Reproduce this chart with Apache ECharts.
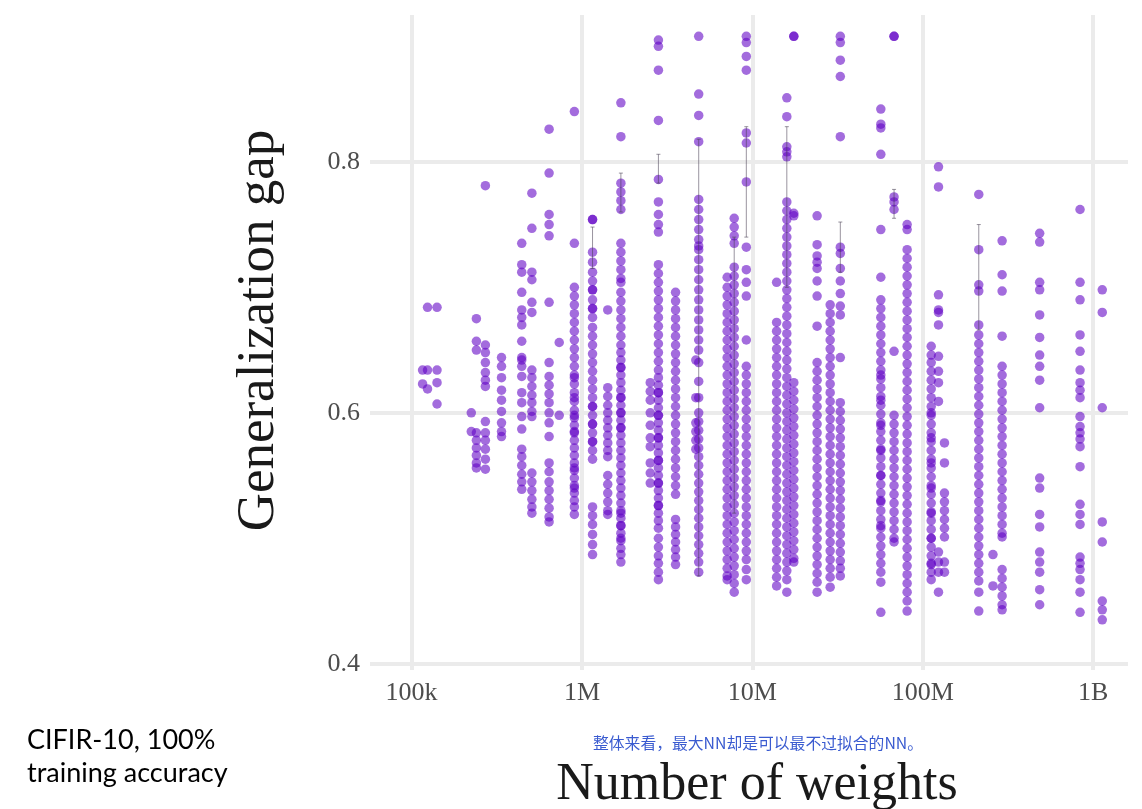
<!DOCTYPE html>
<html>
<head>
<meta charset="utf-8">
<script src="https://cdn.jsdelivr.net/npm/echarts@6/dist/echarts.min.js"></script>
<style>
html,body{margin:0;padding:0;background:#fff;}
#chart{width:1142px;height:809px;}
</style>
</head>
<body>
<div id="chart"></div>
<script>
// ---- data ----
const xTickValues = [1e5, 1e6, 1e7, 1e8, 1e9];
const xTickLabels = ['100k', '1M', '10M', '100M', '1B'];
const yTickValues = [0.4, 0.6, 0.8];

// number of weights for each architecture column
const weights = [
  116e3, 124e3, 141e3, 224e3, 240e3, 271e3, 337e3, 443e3, 508e3, 641e3,
  735e3, 902e3, 1.153e6, 1.416e6, 1.691e6, 2.515e6, 2.808e6, 3.54e6, 4.655e6, 4.84e6,
  7.11e6, 7.82e6, 9.21e6, 13.87e6, 15.92e6, 17.5e6, 23.97e6, 28.6e6, 32.8e6, 56.7e6,
  67.8e6, 80.9e6, 112e6, 123.6e6, 134e6, 213e6, 258e6, 292e6, 485e6, 837e6, 1.13e9
];

// generalization gaps observed for each column
const gaps = [
  [0.634, 0.623],
  [0.684, 0.634, 0.619],
  [0.684, 0.634, 0.624, 0.607],
  [0.600, 0.585],
  [0.675, 0.657, 0.650, 0.584, 0.578, 0.572, 0.566, 0.560, 0.556],
  [0.781, 0.654, 0.648, 0.640, 0.632, 0.626, 0.621, 0.593, 0.584, 0.578, 0.571, 0.563, 0.555],
  [0.644, 0.637, 0.628, 0.618, 0.610, 0.601, 0.592, 0.585, 0.581],
  [0.735, 0.718, 0.712, 0.696, 0.682, 0.676, 0.670, 0.657, 0.644, 0.642, 0.637, 0.629, 0.616, 0.608, 0.597, 0.587, 0.571, 0.565, 0.558, 0.551, 0.545, 0.539],
  [0.775, 0.747, 0.712, 0.706, 0.688, 0.680, 0.634, 0.628, 0.621, 0.614, 0.608, 0.601, 0.597, 0.552, 0.545, 0.538, 0.531, 0.525, 0.520],
  [0.826, 0.791, 0.758, 0.750, 0.741, 0.688, 0.640, 0.629, 0.622, 0.615, 0.608, 0.600, 0.592, 0.581, 0.560, 0.553, 0.545, 0.538, 0.531, 0.524, 0.517, 0.513],
  [0.656, 0.598],
  [0.840, 0.735, 0.700, 0.693, 0.686, 0.679, 0.672, 0.665, 0.658, 0.651, 0.644, 0.637, 0.630, 0.628, 0.623, 0.616, 0.612, 0.609, 0.602, 0.598, 0.596, 0.590, 0.585, 0.584, 0.578, 0.572, 0.566, 0.560, 0.556, 0.554, 0.548, 0.542, 0.540, 0.536, 0.530, 0.525, 0.519],
  [0.754, 0.754, 0.728, 0.720, 0.712, 0.705, 0.698, 0.698, 0.690, 0.683, 0.683, 0.676, 0.668, 0.661, 0.654, 0.647, 0.640, 0.633, 0.626, 0.619, 0.612, 0.605, 0.605, 0.598, 0.591, 0.591, 0.584, 0.577, 0.577, 0.570, 0.563, 0.525, 0.518, 0.511, 0.503, 0.495, 0.487],
  [0.682, 0.620, 0.613, 0.606, 0.600, 0.594, 0.588, 0.582, 0.576, 0.570, 0.565, 0.550, 0.543, 0.536, 0.529, 0.522, 0.519],
  [0.847, 0.820, 0.783, 0.776, 0.769, 0.762, 0.735, 0.728, 0.721, 0.714, 0.707, 0.704, 0.696, 0.689, 0.682, 0.675, 0.668, 0.661, 0.654, 0.648, 0.642, 0.636, 0.636, 0.630, 0.624, 0.618, 0.612, 0.612, 0.606, 0.600, 0.600, 0.594, 0.588, 0.588, 0.582, 0.576, 0.570, 0.564, 0.558, 0.552, 0.546, 0.540, 0.534, 0.528, 0.522, 0.520, 0.516, 0.510, 0.510, 0.504, 0.500, 0.498, 0.492, 0.487, 0.481],
  [0.624, 0.617, 0.610, 0.600, 0.590, 0.580, 0.573, 0.560, 0.552, 0.544],
  [0.897, 0.892, 0.873, 0.833, 0.786, 0.768, 0.758, 0.750, 0.744, 0.718, 0.711, 0.704, 0.697, 0.690, 0.683, 0.676, 0.669, 0.662, 0.655, 0.648, 0.641, 0.634, 0.628, 0.622, 0.616, 0.616, 0.610, 0.604, 0.598, 0.598, 0.592, 0.586, 0.580, 0.580, 0.574, 0.568, 0.562, 0.562, 0.556, 0.550, 0.544, 0.544, 0.538, 0.532, 0.526, 0.526, 0.520, 0.514, 0.508, 0.500, 0.493, 0.486, 0.480, 0.473, 0.467],
  [0.696, 0.689, 0.682, 0.675, 0.668, 0.661, 0.654, 0.647, 0.640, 0.633, 0.626, 0.619, 0.612, 0.605, 0.598, 0.591, 0.584, 0.577, 0.570, 0.563, 0.556, 0.549, 0.542, 0.535, 0.515, 0.509, 0.503, 0.497, 0.491, 0.485, 0.479],
  [0.642, 0.612, 0.592, 0.585, 0.578, 0.571],
  [0.900, 0.854, 0.837, 0.816, 0.770, 0.762, 0.754, 0.746, 0.738, 0.733, 0.730, 0.722, 0.714, 0.706, 0.698, 0.690, 0.682, 0.674, 0.666, 0.658, 0.650, 0.640, 0.625, 0.612, 0.600, 0.593, 0.586, 0.579, 0.572, 0.565, 0.558, 0.551, 0.544, 0.537, 0.530, 0.523, 0.516, 0.509, 0.502, 0.495, 0.488, 0.481, 0.473],
  [0.708, 0.700, 0.693, 0.686, 0.679, 0.672, 0.665, 0.658, 0.651, 0.644, 0.637, 0.630, 0.623, 0.616, 0.609, 0.602, 0.595, 0.588, 0.581, 0.574, 0.567, 0.560, 0.553, 0.546, 0.539, 0.532, 0.525, 0.518, 0.511, 0.504, 0.497, 0.490, 0.483, 0.476, 0.470, 0.467],
  [0.755, 0.748, 0.741, 0.735, 0.716, 0.709, 0.702, 0.695, 0.688, 0.681, 0.674, 0.667, 0.660, 0.653, 0.646, 0.639, 0.632, 0.625, 0.618, 0.611, 0.604, 0.597, 0.590, 0.583, 0.576, 0.569, 0.562, 0.555, 0.548, 0.541, 0.534, 0.527, 0.520, 0.513, 0.506, 0.499, 0.492, 0.485, 0.478, 0.471, 0.464, 0.457],
  [0.900, 0.895, 0.884, 0.873, 0.823, 0.815, 0.784, 0.732, 0.714, 0.704, 0.693, 0.658, 0.637, 0.630, 0.623, 0.616, 0.609, 0.602, 0.595, 0.588, 0.581, 0.574, 0.567, 0.560, 0.553, 0.546, 0.539, 0.532, 0.525, 0.518, 0.511, 0.504, 0.497, 0.490, 0.483, 0.475, 0.467],
  [0.704, 0.672, 0.665, 0.658, 0.651, 0.644, 0.637, 0.630, 0.623, 0.616, 0.609, 0.602, 0.595, 0.588, 0.581, 0.574, 0.567, 0.560, 0.553, 0.546, 0.539, 0.532, 0.525, 0.518, 0.511, 0.504, 0.497, 0.490, 0.483, 0.476, 0.469, 0.462],
  [0.851, 0.836, 0.812, 0.808, 0.804, 0.768, 0.761, 0.754, 0.747, 0.740, 0.733, 0.726, 0.719, 0.712, 0.705, 0.698, 0.691, 0.684, 0.677, 0.670, 0.663, 0.656, 0.649, 0.642, 0.635, 0.628, 0.621, 0.614, 0.607, 0.600, 0.593, 0.586, 0.579, 0.572, 0.565, 0.558, 0.551, 0.544, 0.537, 0.530, 0.523, 0.516, 0.509, 0.502, 0.495, 0.488, 0.481, 0.474, 0.467, 0.457],
  [0.900, 0.900, 0.759, 0.757, 0.624, 0.617, 0.610, 0.603, 0.596, 0.589, 0.582, 0.575, 0.568, 0.561, 0.554, 0.547, 0.540, 0.533, 0.526, 0.519, 0.512, 0.505, 0.498, 0.491, 0.484, 0.481],
  [0.757, 0.734, 0.725, 0.720, 0.715, 0.705, 0.693, 0.669, 0.640, 0.633, 0.626, 0.619, 0.612, 0.605, 0.598, 0.591, 0.584, 0.577, 0.570, 0.563, 0.556, 0.549, 0.542, 0.535, 0.528, 0.521, 0.514, 0.507, 0.500, 0.493, 0.486, 0.479, 0.472, 0.465, 0.457],
  [0.686, 0.679, 0.672, 0.665, 0.658, 0.651, 0.644, 0.637, 0.630, 0.623, 0.616, 0.609, 0.602, 0.595, 0.588, 0.581, 0.574, 0.567, 0.560, 0.553, 0.546, 0.539, 0.532, 0.525, 0.518, 0.511, 0.504, 0.497, 0.490, 0.483, 0.476, 0.469, 0.461],
  [0.900, 0.895, 0.881, 0.868, 0.820, 0.732, 0.727, 0.715, 0.705, 0.695, 0.685, 0.678, 0.644, 0.608, 0.601, 0.594, 0.587, 0.580, 0.573, 0.566, 0.559, 0.552, 0.545, 0.538, 0.531, 0.524, 0.517, 0.510, 0.503, 0.496, 0.489, 0.482, 0.476, 0.470],
  [0.842, 0.830, 0.827, 0.806, 0.746, 0.708, 0.690, 0.683, 0.676, 0.669, 0.662, 0.655, 0.648, 0.641, 0.634, 0.630, 0.627, 0.620, 0.613, 0.610, 0.606, 0.599, 0.592, 0.590, 0.585, 0.578, 0.571, 0.570, 0.564, 0.557, 0.550, 0.550, 0.543, 0.536, 0.530, 0.529, 0.522, 0.515, 0.510, 0.508, 0.501, 0.494, 0.487, 0.480, 0.473, 0.465, 0.441],
  [0.900, 0.900, 0.772, 0.768, 0.762, 0.649, 0.598, 0.591, 0.584, 0.577, 0.570, 0.563, 0.556, 0.549, 0.542, 0.535, 0.528, 0.521, 0.514, 0.507, 0.500, 0.497],
  [0.750, 0.746, 0.730, 0.723, 0.716, 0.709, 0.702, 0.695, 0.688, 0.681, 0.674, 0.667, 0.660, 0.653, 0.646, 0.639, 0.632, 0.625, 0.618, 0.611, 0.604, 0.597, 0.590, 0.583, 0.576, 0.569, 0.562, 0.555, 0.548, 0.541, 0.534, 0.527, 0.520, 0.513, 0.506, 0.499, 0.492, 0.485, 0.478, 0.471, 0.464, 0.457, 0.450, 0.442],
  [0.653, 0.646, 0.640, 0.633, 0.626, 0.619, 0.612, 0.605, 0.600, 0.598, 0.591, 0.584, 0.580, 0.577, 0.570, 0.563, 0.560, 0.556, 0.549, 0.542, 0.540, 0.535, 0.528, 0.521, 0.520, 0.514, 0.507, 0.500, 0.500, 0.493, 0.486, 0.480, 0.479, 0.473, 0.467],
  [0.796, 0.780, 0.694, 0.682, 0.680, 0.670, 0.645, 0.633, 0.624, 0.609, 0.489, 0.481, 0.473, 0.457],
  [0.576, 0.560, 0.536, 0.529, 0.522, 0.515, 0.508, 0.501, 0.481, 0.473],
  [0.774, 0.730, 0.702, 0.697, 0.670, 0.662, 0.655, 0.648, 0.641, 0.634, 0.627, 0.620, 0.613, 0.606, 0.599, 0.592, 0.585, 0.578, 0.571, 0.564, 0.557, 0.550, 0.543, 0.536, 0.529, 0.522, 0.515, 0.508, 0.501, 0.494, 0.487, 0.480, 0.473, 0.466, 0.457, 0.442],
  [0.487, 0.462],
  [0.737, 0.710, 0.697, 0.661, 0.637, 0.630, 0.623, 0.616, 0.609, 0.602, 0.595, 0.588, 0.581, 0.574, 0.567, 0.560, 0.553, 0.546, 0.539, 0.532, 0.525, 0.518, 0.511, 0.504, 0.501, 0.475, 0.468, 0.461, 0.454, 0.447, 0.443],
  [0.743, 0.736, 0.704, 0.698, 0.678, 0.660, 0.646, 0.637, 0.626, 0.604, 0.548, 0.540, 0.519, 0.509, 0.489, 0.481, 0.473, 0.459, 0.447],
  [0.762, 0.704, 0.690, 0.662, 0.649, 0.634, 0.624, 0.618, 0.612, 0.597, 0.589, 0.584, 0.579, 0.573, 0.557, 0.527, 0.519, 0.511, 0.485, 0.480, 0.475, 0.467, 0.457, 0.441],
  [0.698, 0.680, 0.604, 0.513, 0.497, 0.450, 0.443, 0.435]
];

// error bars (weights, low, high)
const errWeights = [1.153e6, 1.691e6, 2.808e6, 4.84e6, 7.82e6, 9.21e6, 15.92e6, 32.8e6, 67.8e6, 213e6];
const errLow     = [0.715, 0.760, 0.783, 0.470, 0.520, 0.740, 0.700, 0.712, 0.755, 0.666];
const errHigh    = [0.748, 0.791, 0.806, 0.818, 0.740, 0.828, 0.828, 0.752, 0.778, 0.750];

// ---- build series data ----
const points = [];
weights.forEach((w, i) => gaps[i].forEach(g => points.push([w, g])));
const errData = errWeights.map((w, i) => [w, errLow[i], errHigh[i]]);

const serif = '"Liberation Serif", "DejaVu Serif", serif';
const chart = echarts.init(document.getElementById('chart'), null, {renderer: 'canvas'});
chart.setOption({
  animation: false,
  backgroundColor: '#ffffff',
  grid: {left: 370, right: 14, top: 15, bottom: 139, containLabel: false, outerBoundsMode: 'none'},
  xAxis: {
    type: 'log',
    logBase: 10,
    min: 57000,
    max: 1.6e9,
    name: 'Number of weights',
    nameLocation: 'middle',
    nameGap: 89,
    nameTextStyle: {fontFamily: serif, fontSize: 52, color: '#1a1a1a', padding: [0, 0, 0, 16]},
    axisLine: {show: false},
    axisTick: {show: false},
    axisLabel: {
      showMinLabel: false, showMaxLabel: false,
      margin: 10,
      fontFamily: serif, fontSize: 26, color: '#4d4d4d',
      formatter: v => {
        for (let k = 0; k < xTickValues.length; k++) {
          if (Math.abs(Math.log10(v) - Math.log10(xTickValues[k])) < 1e-6) return xTickLabels[k];
        }
        return '';
      }
    },
    splitLine: {show: true, showMinLine: false, showMaxLine: false, lineStyle: {color: '#ebebeb', width: 4}}
  },
  yAxis: {
    type: 'value',
    min: 0.395,
    max: 0.917,
    name: 'Generalization gap',
    nameLocation: 'middle',
    nameGap: 84,
    nameTextStyle: {fontFamily: serif, fontSize: 53, color: '#1a1a1a', padding: [0, 0, 0, 24]},
    axisLine: {show: false},
    axisTick: {show: false, customValues: yTickValues},
    axisLabel: {
      customValues: yTickValues,
      margin: 10,
      fontFamily: serif, fontSize: 26, color: '#4d4d4d',
      formatter: v => v.toFixed(1)
    },
    splitLine: {show: true, lineStyle: {color: '#ebebeb', width: 4}}
  },
  series: [
    {
      type: 'scatter',
      data: points,
      symbol: 'circle',
      symbolSize: 9.5,
      itemStyle: {color: 'rgba(96, 0, 196, 0.72)'},
      z: 2
    },
    {
      type: 'custom',
      data: errData,
      z: 3,
      renderItem: (params, api) => {
        const x = api.value(0);
        const p1 = api.coord([x, api.value(1)]);
        const p2 = api.coord([x, api.value(2)]);
        return {
          type: 'group',
          children: [
            {type: 'line', shape: {x1: p1[0], y1: p1[1], x2: p2[0], y2: p2[1]}, style: {stroke: 'rgba(70,60,80,0.55)', lineWidth: 1}},
            {type: 'line', shape: {x1: p1[0] - 2, y1: p1[1], x2: p1[0] + 2, y2: p1[1]}, style: {stroke: 'rgba(70,60,80,0.55)', lineWidth: 1}},
            {type: 'line', shape: {x1: p2[0] - 2, y1: p2[1], x2: p2[0] + 2, y2: p2[1]}, style: {stroke: 'rgba(70,60,80,0.55)', lineWidth: 1}}
          ]
        };
      }
    }
  ],
  graphic: [
    {type: 'text', left: 27, top: 727, style: {text: 'CIFIR-10, 100%', font: '27px Lato, "Open Sans", sans-serif', fill: '#000'}},
    {type: 'text', left: 27, top: 760, style: {text: 'training accuracy', font: '27px Lato, "Open Sans", sans-serif', fill: '#000'}},
    {type: 'text', left: 593, top: 735, style: {text: '整体来看，最大NN却是可以最不过拟合的NN。', font: '15.8px "Noto Sans CJK SC", sans-serif', fill: '#3a5bd0'}}
  ]
});
</script>
</body>
</html>
